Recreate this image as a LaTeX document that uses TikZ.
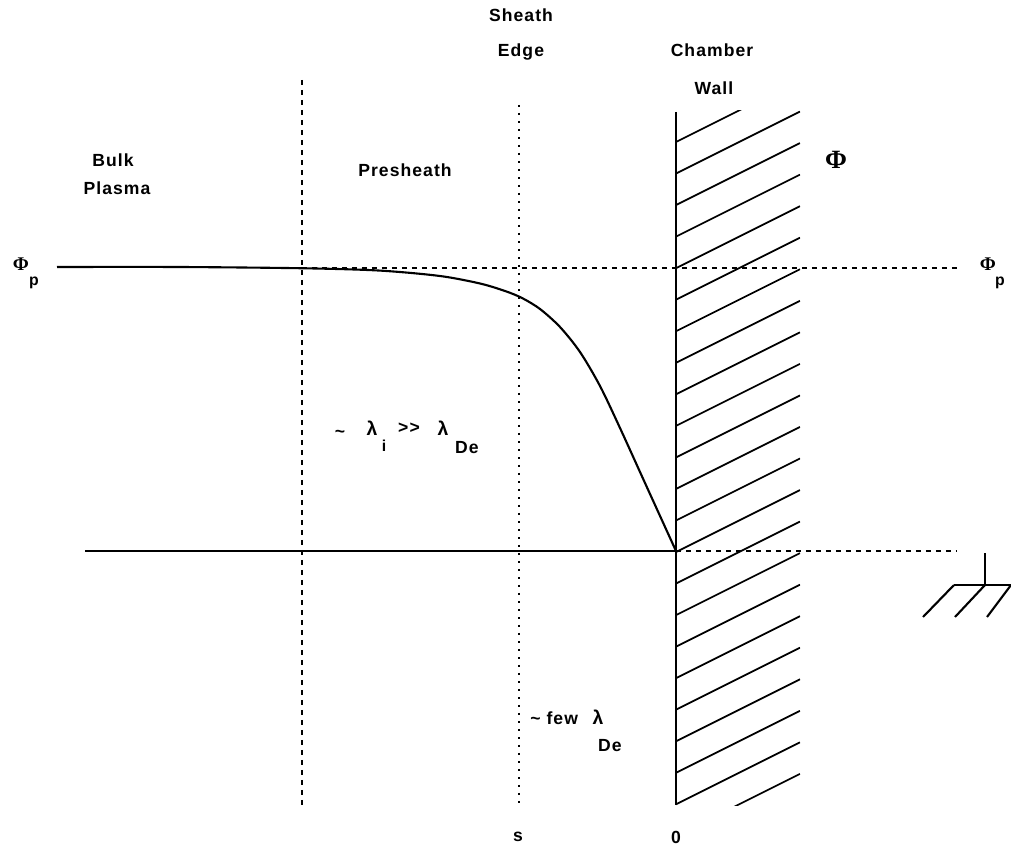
\documentclass[tikz,border=0pt]{standalone}
\usepackage{fontspec}
\setmainfont{Liberation Sans}
\newfontfamily\lblfont{Liberation Sans}[LetterSpace=6]
\newfontfamily\phifont{Liberation Serif}
\begin{document}
\begin{tikzpicture}[x=0.02cm,y=-0.02cm,
  lbl/.style={font=\lblfont\bfseries\fontsize{10}{12}\selectfont, inner sep=0},
  sublbl/.style={font=\lblfont\bfseries\fontsize{9}{11}\selectfont, inner sep=0},
  greek/.style={font=\bfseries\fontsize{11}{13}\selectfont, inner sep=0},
  solidline/.style={line width=1.2pt, line join=round},
  dashline/.style={line width=0.9pt, dash pattern=on 0.1cm off 0.1cm},
  dotline/.style={line width=1pt, dash pattern=on 0.05cm off 0.11cm},
  hatch/.style={line width=1pt}]
\useasboundingbox (0,0) rectangle (1011,848);

% coordinates
\coordinate (topL) at (57,267);
\coordinate (wallTop) at (676,112);
\coordinate (wallBot) at (676,805);
\coordinate (origin) at (676,551);
\coordinate (baseL) at (85,551);
\coordinate (baseR) at (957,551);
\coordinate (phiDashL) at (302,268);
\coordinate (phiDashR) at (960,268);
\coordinate (vA1) at (302,80);
\coordinate (vA2) at (302,805);
\coordinate (vB1) at (519,105);
\coordinate (vB2) at (519,805);

% vertical region separators
\draw[dashline] (vA1) -- (vA2);
\draw[dotline] (vB1) -- (vB2);

% horizontal reference lines
\draw[dashline] (phiDashL) -- (phiDashR);
\draw[solidline] (baseL) -- (origin);
\draw[dashline] (origin) -- (baseR);

% potential curve
\draw[solidline] plot[smooth, tension=0.5] coordinates {(57,267) (180,267) (305,268.3) (380,270.6) (440,276) (480,283.5) (505,291) (522,298) (540,309) (560,327) (580,352) (600,386) (620,428) (645,483) (676,551)};

% chamber wall with hatching
\draw[solidline] (wallTop) -- (wallBot);
\begin{scope}
  \clip (676,111) rectangle (800,805);
  \foreach \k in {0,...,22}
    \draw[hatch] (676,{142+31.54*\k}) -- (800,{142+31.54*\k-62});
\end{scope}

% ground symbol
\coordinate (g0) at (985,553);
\coordinate (g1) at (985,585);
\coordinate (gL) at (954,585);
\coordinate (gR) at (1011,585);
\draw[solidline] (g0) -- (g1);
\draw[solidline] (gL) -- (gR);
\draw[solidline] (gL) -- (923,617);
\draw[solidline] (g1) -- (955,617);
\draw[solidline] (gR) -- (987,617);

% labels
\node[lbl] (bulk) at (113,160) {Bulk};
\node[lbl] (plasma) at (117,188) {Plasma};
\node[lbl] (presheath) at (405,170) {Presheath};
\node[lbl] (sheath) at (521,15) {Sheath};
\node[lbl] (edge) at (521,52) {Edge};
\node[lbl] (chamber) at (712,50) {Chamber};
\node[lbl] (wall) at (714,88) {Wall};
\node[inner sep=0, font=\phifont\bfseries\fontsize{15}{17}\selectfont] (bigphi) at (836,160) {Φ};

\node[inner sep=0, font=\phifont\bfseries\fontsize{11}{13}\selectfont] (phiL) at (21,264) {Φ};
\node[sublbl] (pL) at (34,283) {p};
\node[inner sep=0, font=\phifont\bfseries\fontsize{11}{13}\selectfont] (phiR) at (988,264) {Φ};
\node[sublbl] (pR) at (1000,283) {p};

\node[lbl] (tilde1) at (340,434) {\textasciitilde};
\node[greek] (lam1) at (372,428) {λ};
\node[sublbl] (isub) at (384,446) {i};
\node[lbl] (gg) at (409,428) {>\kern0.06em>};
\node[greek] (lam2) at (443,428) {λ};
\node[lbl] (De1) at (467,448) {De};

\node[lbl, anchor=west] (few) at (530,718) {\textasciitilde\ few};
\node[greek] (lam3) at (598,717) {λ};
\node[lbl] (De2) at (610,746) {De};

\node[lbl] (s) at (518,837) {s};
\node[lbl] (zero) at (676,837) {0};
\end{tikzpicture}
\end{document}
